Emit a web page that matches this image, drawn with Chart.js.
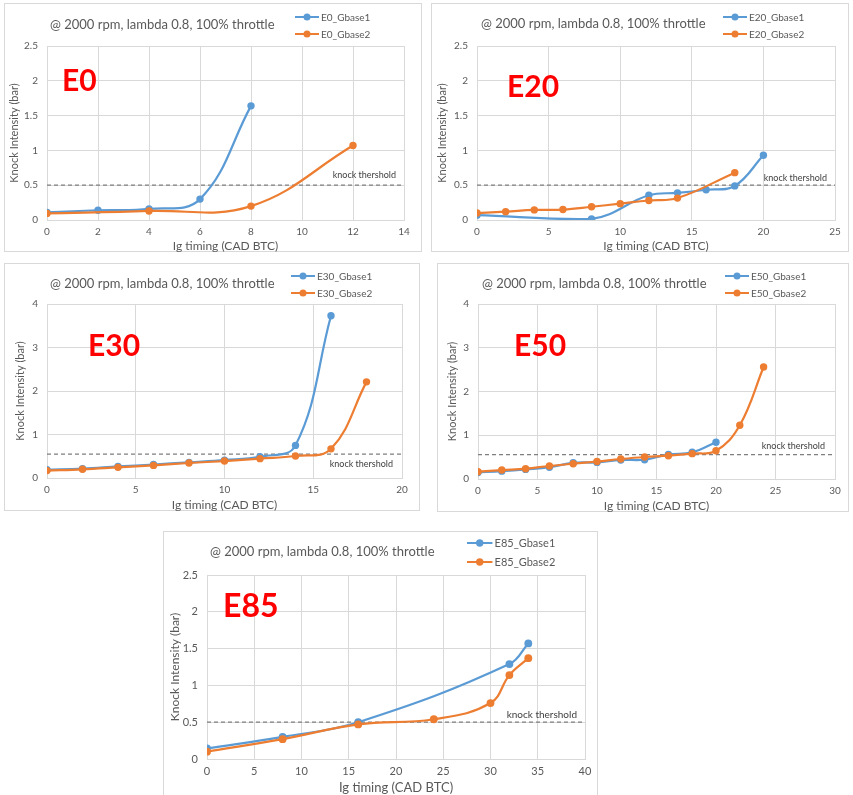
<!DOCTYPE html>
<html>
<head>
<meta charset="utf-8">
<script src="https://cdn.jsdelivr.net/npm/chart.js@4.4.1/dist/chart.umd.min.js"></script>
<style>
  html, body { margin: 0; padding: 0; background: #ffffff; width: 853px; height: 795px; overflow: hidden; }
  .panel { position: absolute; }
  .panel canvas { display: block; }
</style>
</head>
<body>
<div class="panel" id="p0"><canvas id="c0"></canvas></div>
<div class="panel" id="p1"><canvas id="c1"></canvas></div>
<div class="panel" id="p2"><canvas id="c2"></canvas></div>
<div class="panel" id="p3"><canvas id="c3"></canvas></div>
<div class="panel" id="p4"><canvas id="c4"></canvas></div>
<script>
// Knock intensity (bar) against ignition timing (CAD BTC), 2000 rpm, lambda 0.8, WOT.

// E0
const e0Gbase1X = [0, 2, 4, 6, 8];
const e0Gbase1Y = [0.11, 0.14, 0.16, 0.30, 1.64];
const e0Gbase2X = [0, 4, 8, 12];
const e0Gbase2Y = [0.095, 0.13, 0.20, 1.07];

// E20
const e20Gbase1X = [0, 8, 12, 14, 16, 18, 20];
const e20Gbase1Y = [0.07, 0.015, 0.355, 0.39, 0.435, 0.49, 0.93];
const e20Gbase2X = [0, 2, 4, 6, 8, 10, 12, 14, 18];
const e20Gbase2Y = [0.10, 0.12, 0.145, 0.15, 0.19, 0.235, 0.28, 0.315, 0.68];

// E30
const e30Gbase1X = [0, 2, 4, 6, 8, 10, 12, 14, 16];
const e30Gbase1Y = [0.19, 0.215, 0.265, 0.31, 0.36, 0.41, 0.49, 0.75, 3.73];
const e30Gbase2X = [0, 2, 4, 6, 8, 10, 12, 14, 16, 18];
const e30Gbase2Y = [0.17, 0.20, 0.245, 0.29, 0.345, 0.39, 0.445, 0.505, 0.67, 2.21];

// E50
const e50Gbase1X = [0, 2, 4, 6, 8, 10, 12, 14, 16, 18, 20];
const e50Gbase1Y = [0.15, 0.18, 0.22, 0.27, 0.37, 0.38, 0.435, 0.44, 0.56, 0.61, 0.84];
const e50Gbase2X = [0, 2, 4, 6, 8, 10, 12, 14, 16, 18, 20, 22, 24];
const e50Gbase2Y = [0.167, 0.205, 0.235, 0.297, 0.35, 0.40, 0.457, 0.503, 0.533, 0.58, 0.647, 1.23, 2.56];

// E85
const e85Gbase1X = [0, 8, 16, 32, 34];
const e85Gbase1Y = [0.145, 0.30, 0.50, 1.29, 1.57];
const e85Gbase2X = [0, 8, 16, 24, 30, 32, 34];
const e85Gbase2Y = [0.10, 0.27, 0.47, 0.54, 0.76, 1.14, 1.37];

// knock threshold per fuel
const knockThreshold = [0.5, 0.5, 0.55, 0.555, 0.5];

// axis ranges
const xAxisMax = [14, 25, 20, 30, 40];
const xAxisStep = [2, 5, 5, 5, 5];
const yAxisMax = [2.5, 2.5, 4, 4, 2.5];
const yAxisStep = [0.5, 0.5, 1, 1, 0.5];

const fuelNames = ['E0', 'E20', 'E30', 'E50', 'E85'];
const seriesX = [
  [e0Gbase1X, e0Gbase2X], [e20Gbase1X, e20Gbase2X], [e30Gbase1X, e30Gbase2X],
  [e50Gbase1X, e50Gbase2X], [e85Gbase1X, e85Gbase2X]
];
const seriesY = [
  [e0Gbase1Y, e0Gbase2Y], [e20Gbase1Y, e20Gbase2Y], [e30Gbase1Y, e30Gbase2Y],
  [e50Gbase1Y, e50Gbase2Y], [e85Gbase1Y, e85Gbase2Y]
];

const subtitle = '@ 2000 rpm, lambda 0.8, 100% throttle';
const thresholdNote = 'knock thershold';
const BLUE = '#5b9bd5';
const ORANGE = '#ed7d31';
const FONT = 'Lato, "Open Sans", sans-serif';

// page layout of each panel: box = [left, top, width, height]
const layouts = [
  { box: [4, 3, 418, 249],   plot: { left: 43, top: 43, right: 18, bottom: 32 }, scale: 1,
    title: [46, 22], legend: [291, 14, 17], tag: [58, 88], note: [8, -10], yTitlePad: 4, xTitlePad: 0 },
  { box: [431, 3, 418, 249], plot: { left: 46, top: 43, right: 14, bottom: 32 }, scale: 1,
    title: [50, 21], legend: [292, 14, 17], tag: [76, 94], note: [8, -7], yTitlePad: 5, xTitlePad: 0 },
  { box: [4, 263, 416, 248], plot: { left: 43, top: 41, right: 18, bottom: 33 }, scale: 1,
    title: [46, 21], legend: [287, 13, 17], tag: [84, 93], note: [9, 10], yTitlePad: 10, xTitlePad: 0 },
  { box: [437, 263, 412, 249], plot: { left: 41, top: 41, right: 14, bottom: 33 }, scale: 1,
    title: [45, 21], legend: [288, 13, 17], tag: [77, 93], note: [10, -9], yTitlePad: 9, xTitlePad: 0 },
  { box: [163, 531, 435, 270], plot: { left: 44, top: 44, right: 13, bottom: 42 }, scale: 1.06,
    title: [47, 21], legend: [304, 12, 19], tag: [60, 86], note: [8, -7], yTitlePad: 5, xTitlePad: 7 }
];

// Frame, heading, legend, fuel tag and threshold note
const panelDecor = {
  id: 'panelDecor',
  beforeDraw(chart) {
    const ctx = chart.ctx;
    ctx.save();
    ctx.fillStyle = '#ffffff';
    ctx.fillRect(0, 0, chart.width, chart.height);
    ctx.strokeStyle = '#d9d9d9';
    ctx.lineWidth = 1;
    ctx.strokeRect(0.5, 0.5, chart.width - 1, chart.height - 1);
    ctx.restore();
  },
  afterDraw(chart, args, o) {
    const ctx = chart.ctx;
    const s = o.scale;
    ctx.save();

    // heading
    ctx.fillStyle = '#595959';
    ctx.font = `${Math.round(12.5 * s)}px ${FONT}`;
    ctx.textAlign = 'left';
    ctx.textBaseline = 'middle';
    ctx.fillText(o.heading, o.title[0], o.title[1]);

    // legend (series in dataset order)
    const [lx, ly, gap] = o.legend;
    ctx.font = `${Math.round(10 * s)}px ${FONT}`;
    let row = 0;
    chart.data.datasets.forEach(ds => {
      if (!ds.inLegend) return;
      const y = ly + row * gap;
      ctx.strokeStyle = ds.borderColor;
      ctx.lineWidth = 2;
      ctx.beginPath();
      ctx.moveTo(lx, y);
      ctx.lineTo(lx + 24 * s, y);
      ctx.stroke();
      ctx.fillStyle = ds.borderColor;
      ctx.beginPath();
      ctx.arc(lx + 12 * s, y, 3.5 * s, 0, Math.PI * 2);
      ctx.fill();
      ctx.fillStyle = '#595959';
      ctx.fillText(ds.label, lx + 26 * s, y + 0.5);
      row++;
    });

    // fuel tag
    ctx.fillStyle = '#ff0000';
    ctx.font = `bold ${Math.round(30 * s)}px ${FONT}`;
    ctx.textBaseline = 'alphabetic';
    ctx.fillText(o.tag, o.tagPos[0], o.tagPos[1]);

    // threshold note
    const area = chart.chartArea;
    const yThr = chart.scales.y.getPixelForValue(o.threshold);
    ctx.fillStyle = '#404040';
    ctx.font = `${Math.round(9 * s)}px ${FONT}`;
    ctx.textAlign = 'right';
    ctx.textBaseline = 'middle';
    ctx.fillText(thresholdNote, area.right - o.note[0], yThr + o.note[1]);

    ctx.restore();
  }
};

function points(xs, ys) {
  return xs.map((x, i) => ({ x: x, y: ys[i] }));
}

// plain numbers on the axes: 0, 0.5, 1, 1.5 ...
function plainTick(value) {
  return String(parseFloat(Number(value).toFixed(2)));
}

fuelNames.forEach((fuel, k) => {
  const L = layouts[k];
  const [left, top, width, height] = L.box;
  const holder = document.getElementById('p' + k);
  holder.style.left = left + 'px';
  holder.style.top = top + 'px';
  const canvas = document.getElementById('c' + k);
  canvas.width = width;
  canvas.height = height;
  canvas.style.width = width + 'px';
  canvas.style.height = height + 'px';
  const s = L.scale;

  const seriesStyle = (color) => ({
    borderColor: color,
    backgroundColor: color,
    pointBackgroundColor: color,
    pointBorderColor: color,
    pointRadius: 3.7 * s,
    pointBorderWidth: 0,
    borderWidth: 2.2,
    showLine: true,
    tension: 0.4,
    fill: false,
    inLegend: true
  });

  new Chart(canvas, {
    type: 'scatter',
    data: {
      datasets: [
        Object.assign({ label: fuel + '_Gbase1', data: points(seriesX[k][0], seriesY[k][0]), order: 1 }, seriesStyle(BLUE)),
        Object.assign({ label: fuel + '_Gbase2', data: points(seriesX[k][1], seriesY[k][1]), order: 0 }, seriesStyle(ORANGE)),
        {
          label: 'threshold',
          data: [{ x: 0, y: knockThreshold[k] }, { x: xAxisMax[k], y: knockThreshold[k] }],
          showLine: true,
          borderColor: '#7f7f7f',
          borderWidth: 1.2,
          borderDash: [4, 3],
          pointRadius: 0,
          tension: 0,
          order: 2,
          inLegend: false
        }
      ]
    },
    options: {
      responsive: false,
      animation: false,
      devicePixelRatio: 1,
      layout: { padding: { left: 0, top: L.plot.top, right: L.plot.right, bottom: 0 } },
      plugins: {
        legend: { display: false },
        title: { display: false },
        tooltip: { enabled: false },
        panelDecor: {
          scale: s,
          heading: subtitle,
          title: L.title,
          legend: L.legend,
          tag: fuel,
          tagPos: L.tag,
          note: L.note,
          threshold: knockThreshold[k]
        }
      },
      scales: {
        x: {
          type: 'linear',
          min: 0,
          max: xAxisMax[k],
          afterFit: (scale) => { scale.height = L.plot.bottom; },
          ticks: { stepSize: xAxisStep[k], color: '#595959', font: { family: FONT, size: Math.round(10 * s) }, padding: 6, maxRotation: 0, callback: plainTick },
          grid: { color: '#d9d9d9', drawTicks: false },
          border: { color: '#d9d9d9' },
          title: {
            display: true,
            text: 'Ig timing (CAD BTC)',
            color: '#595959',
            font: { family: FONT, size: Math.round(12 * s), lineHeight: 1 },
            padding: { top: 0, bottom: L.xTitlePad }
          }
        },
        y: {
          type: 'linear',
          min: 0,
          max: yAxisMax[k],
          afterFit: (scale) => { scale.width = L.plot.left; },
          ticks: { stepSize: yAxisStep[k], color: '#595959', font: { family: FONT, size: Math.round(10 * s) }, padding: 9, callback: plainTick },
          grid: { color: '#d9d9d9', drawTicks: false },
          border: { color: '#d9d9d9' },
          title: {
            display: true,
            text: 'Knock Intensity (bar)',
            color: '#595959',
            font: { family: FONT, size: Math.round(11 * s), lineHeight: 1.2 },
            padding: { top: L.yTitlePad, bottom: 0 }
          }
        }
      }
    },
    plugins: [panelDecor]
  });
});
</script>
</body>
</html>
